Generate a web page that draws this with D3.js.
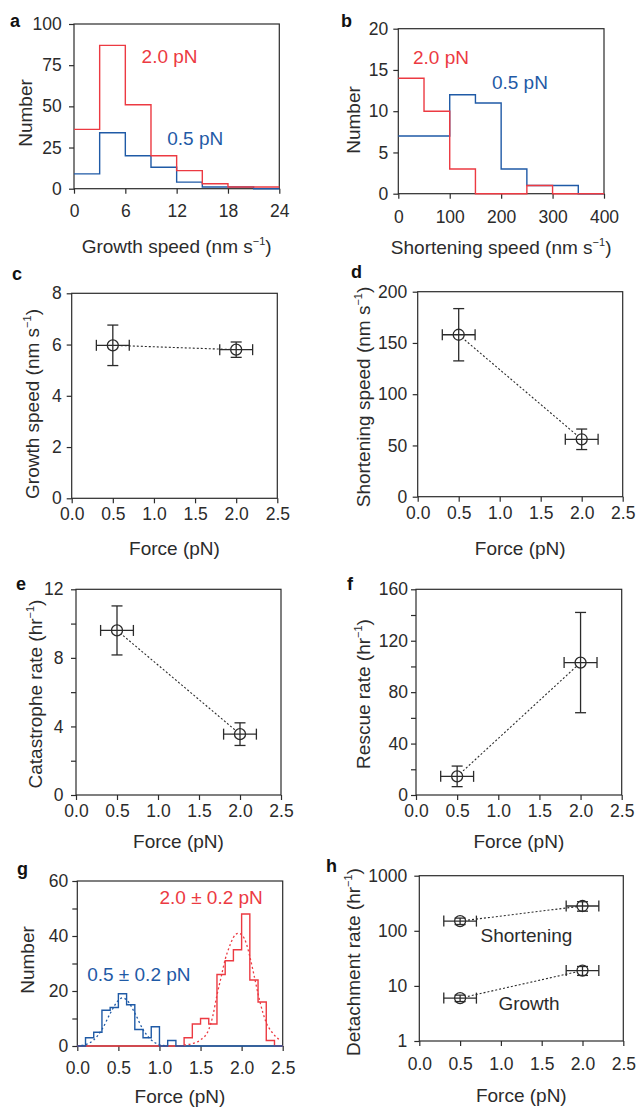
<!DOCTYPE html>
<html>
<head>
<meta charset="utf-8">
<script src="https://cdn.jsdelivr.net/npm/d3@7/dist/d3.min.js"></script>
<style>
  body { margin: 0; background: #fff; }
  svg text { font-family: "Liberation Sans", Arial, Helvetica, sans-serif; }
</style>
</head>
<body>
<svg id="fig" width="640" height="1107"></svg>
<script>
// a: growth speed histogram
var growthBins = [0, 3, 6, 9, 12, 15, 18, 21, 24];
var growthHigh = [36, 87, 51, 20, 11, 3, 1, 1];
var growthLow  = [9, 34, 20, 13, 4, 1, 1, 0];

// b: shortening speed histogram
var shortBins = [0, 50, 100, 150, 200, 250, 300, 350, 400];
var shortHigh = [14, 10, 3, 0, 0, 1, 0, 0];
var shortLow  = [7, 7, 12, 11, 3, 1, 1, 0];

// c-f: values at the two forces
var forces = [0.5, 2.0];
var forceErr = [0.2, 0.2];
var growthSpeed = [5.97, 5.8],  growthSpeedErr = [0.79, 0.3];
var shortSpeed  = [158, 56],    shortSpeedErr  = [25.5, 10];
var catRate     = [9.6, 3.55],  catRateErr     = [1.43, 0.66];
var rescueRate  = [14.5, 103],  rescueRateErr  = [8, 39];

// g: force histogram (0.1 pN bins) and fits
var forceBins = [0, 0.1, 0.2, 0.3, 0.4, 0.5, 0.6, 0.7, 0.8, 0.9, 1.0, 1.1, 1.2, 1.3,
                 1.4, 1.5, 1.6, 1.7, 1.8, 1.9, 2.0, 2.1, 2.2, 2.3, 2.4, 2.5];
var forceHigh = [0, 0, 0, 0, 0, 0, 0, 0, 0, 0, 0, 0, 0, 3, 8, 10, 8, 26, 31, 35, 48, 24, 16, 2, 0];
var forceLow  = [0, 3, 5, 13, 14, 19, 15, 6, 3, 7, 0, 2, 0, 0, 0, 0, 0, 0, 0, 0, 0, 0, 0, 0, 0];
var fitLow = [[0.05, 0.2], [0.1, 0.5], [0.2, 2.2], [0.3, 6], [0.4, 11.8], [0.5, 16.6],
              [0.55, 17.5], [0.6, 16.8], [0.7, 12], [0.8, 6], [0.9, 2.2], [1.0, 0.5], [1.1, 0.1]];
var fitHigh = [[1.3, 0.3], [1.4, 0.9], [1.5, 2.2], [1.6, 6], [1.65, 11], [1.7, 18.5],
               [1.75, 25], [1.8, 31.5], [1.85, 36], [1.9, 39.5], [1.96, 41], [2.0, 40.5],
               [2.06, 37], [2.1, 32.5], [2.16, 24.5], [2.2, 19], [2.26, 12], [2.3, 8.5],
               [2.37, 5], [2.47, 2]];

// h: detachment rates
var detachShort = [150, 282], detachShortErr = [20, 55];
var detachGrow  = [6, 19],    detachGrowErr  = [0.8, 3.5];

var RED = "#ec3a42", BLUE = "#1f5aa6", INK = "#2b2b2b";
var TICK = 17.5, TXT = 19;
var svg = d3.select("#fig");

function title(sel, parts) {
  sel.append("tspan").text(parts[0]);
  if (parts.length > 1) {
    sel.append("tspan").attr("font-size", 11).attr("dy", -8).text(parts[1]);
    sel.append("tspan").attr("font-size", TXT).attr("dy", 8).text(parts[2]);
  }
}

function panel(p) {
  var g = svg.append("g");
  var x = d3.scaleLinear().domain(p.xd).range([p.l, p.r]);
  var y = (p.log ? d3.scaleLog() : d3.scaleLinear()).domain(p.yd).range([p.b, p.t]);

  g.append("g").attr("transform", "translate(0," + p.b + ")")
    .call(d3.axisBottom(x).tickValues(p.xt).tickSize(5).tickPadding(p.xpad).tickFormat(p.xf || d3.format("d")));
  g.append("g").attr("transform", "translate(" + p.l + ",0)")
    .call(d3.axisLeft(y).tickValues(p.yt).tickSize(5).tickPadding(p.ypad).tickFormat(p.yf || d3.format("d")));
  if (p.ym) {
    g.append("g").attr("transform", "translate(" + p.l + ",0)")
      .call(d3.axisLeft(y).tickValues(p.ym).tickSize(5).tickFormat(""));
  }
  g.selectAll(".domain").remove();
  g.selectAll(".tick line").attr("stroke", INK).attr("stroke-width", 1.2);
  g.selectAll(".tick text").attr("font-size", TICK).style("fill", INK);

  g.append("rect").attr("x", p.l).attr("y", p.t)
    .attr("width", p.r - p.l).attr("height", p.b - p.t)
    .attr("fill", "none").attr("stroke", INK).attr("stroke-width", 1.2);

  g.append("text").attr("x", p.lx[0]).attr("y", p.lx[1])
    .attr("font-size", 18).attr("font-weight", "bold").style("fill", "#111").text(p.id);

  g.append("text").attr("x", (p.l + p.r) / 2).attr("y", p.xty)
    .attr("text-anchor", "middle").attr("font-size", TXT).style("fill", INK).call(title, p.xtitle);

  g.append("text").attr("transform", "translate(" + p.ytp[0] + "," + p.ytp[1] + ") rotate(-90)")
    .attr("text-anchor", "middle").attr("dy", "0.35em").attr("font-size", TXT)
    .style("fill", INK).call(title, p.ytitle);

  return { g: g.append("g"), x: x, y: y };
}

function hist(P, bins, counts, color) {
  var pts = counts.map(function(c, i) { return [bins[i], c]; });
  pts.push([bins[bins.length - 1], counts[counts.length - 1]]);
  P.g.append("path").datum(pts)
    .attr("fill", "none").attr("stroke", color).attr("stroke-width", 1.4)
    .attr("d", d3.line().curve(d3.curveStepAfter)
      .x(function(d) { return P.x(d[0]); }).y(function(d) { return P.y(d[1]); }));
}

function points(P, ys, yerr) {
  var pts = forces.map(function(f, i) { return [f, ys[i], forceErr[i], yerr[i]]; });
  P.g.append("path").datum(pts)
    .attr("fill", "none").attr("stroke", INK).attr("stroke-width", 1.1).attr("stroke-dasharray", "2,2")
    .attr("d", d3.line().x(function(d) { return P.x(d[0]); }).y(function(d) { return P.y(d[1]); }));
  var cap = 5.5;
  pts.forEach(function(d) {
    var cx = P.x(d[0]), cy = P.y(d[1]);
    P.g.append("circle").attr("cx", cx).attr("cy", cy).attr("r", 5.5)
      .attr("fill", "#fff").attr("stroke", INK).attr("stroke-width", 1.3);
    var x0 = P.x(d[0] - d[2]), x1 = P.x(d[0] + d[2]);
    var y0 = P.y(d[1] - d[3]), y1 = P.y(d[1] + d[3]);
    var segs = [[x0, cy, x1, cy], [x0, cy - cap, x0, cy + cap], [x1, cy - cap, x1, cy + cap],
                [cx, y0, cx, y1], [cx - cap, y0, cx + cap, y0], [cx - cap, y1, cx + cap, y1]];
    segs.forEach(function(s) {
      P.g.append("line").attr("x1", s[0]).attr("y1", s[1]).attr("x2", s[2]).attr("y2", s[3])
        .attr("stroke", INK).attr("stroke-width", 1.3);
    });
  });
}

function label(P, x, y, txt, color) {
  P.g.append("text").attr("x", P.x(x)).attr("y", P.y(y))
    .attr("font-size", TXT).style("fill", color).text(txt);
}

var forceTicks = [0, 0.5, 1.0, 1.5, 2.0, 2.5];
var f1 = d3.format(".1f");
var forceTitle = ["Force (pN)"];

// a
var A = panel({ id: "a", l: 74, t: 24, r: 279.3, b: 188.7, xd: [0, 24], yd: [0, 100],
  xt: [0, 6, 12, 18, 24], yt: [0, 25, 50, 75, 100], xpad: 11, ypad: 7.3,
  lx: [10, 27], xty: 253, ytp: [25, 113],
  xtitle: ["Growth speed (nm s", "−1", ")"], ytitle: ["Number"] });
hist(A, growthBins, growthLow, BLUE);
hist(A, growthBins, growthHigh, RED);
label(A, 7.9, 76.3, "2.0 pN", RED);
label(A, 10.9, 26.5, "0.5 pN", BLUE);

// b
var B = panel({ id: "b", l: 398.3, t: 28.7, r: 604, b: 193.7, xd: [0, 400], yd: [0, 20],
  xt: [0, 100, 200, 300, 400], yt: [0, 5, 10, 15, 20], xpad: 12, ypad: 5,
  lx: [341, 27], xty: 254, ytp: [353, 120],
  xtitle: ["Shortening speed (nm s", "−1", ")"], ytitle: ["Number"] });
hist(B, shortBins, shortLow, BLUE);
hist(B, shortBins, shortHigh, RED);
label(B, 28.6, 15.7, "2.0 pN", RED);
label(B, 182, 12.7, "0.5 pN", BLUE);

// c
var C = panel({ id: "c", l: 71.7, t: 293.3, r: 277.3, b: 498.3, xd: [0, 2.5], yd: [0, 8],
  xt: forceTicks, xf: f1, yt: [0, 2, 4, 6, 8], xpad: 4.6, ypad: 5,
  lx: [12, 280], xty: 555, ytp: [32, 404],
  xtitle: forceTitle, ytitle: ["Growth speed (nm s", "−1", ")"] });
points(C, growthSpeed, growthSpeedErr);

// d
var D = panel({ id: "d", l: 417.7, t: 291.7, r: 622.7, b: 496.7, xd: [0, 2.5], yd: [0, 200],
  xt: forceTicks, xf: f1, yt: [0, 50, 100, 150, 200], xpad: 4.6, ypad: 5.4,
  lx: [351, 278], xty: 555, ytp: [363, 397],
  xtitle: forceTitle, ytitle: ["Shortening speed (nm s", "−1", ")"] });
points(D, shortSpeed, shortSpeedErr);

// e
var E = panel({ id: "e", l: 76, t: 589.3, r: 281, b: 795, xd: [0, 2.5], yd: [0, 12],
  xt: forceTicks, xf: f1, yt: [0, 4, 8, 12], ym: [2, 6, 10], xpad: 4.6, ypad: 7.5,
  lx: [16, 590], xty: 848, ytp: [35, 694],
  xtitle: forceTitle, ytitle: ["Catastrophe rate (hr", "−1", ")"] });
points(E, catRate, catRateErr);

// f
var F = panel({ id: "f", l: 416, t: 589.3, r: 621.7, b: 795, xd: [0, 2.5], yd: [0, 160],
  xt: forceTicks, xf: f1, yt: [0, 40, 80, 120, 160], ym: [20, 60, 100, 140], xpad: 4.6, ypad: 3,
  lx: [347, 590], xty: 848, ytp: [363, 694],
  xtitle: forceTitle, ytitle: ["Rescue rate (hr", "−1", ")"] });
points(F, rescueRate, rescueRateErr);

// g
var G = panel({ id: "g", l: 77.3, t: 881, r: 282.7, b: 1046, xd: [0, 2.5], yd: [0, 60],
  xt: forceTicks, xf: f1, yt: [0, 20, 40, 60], ym: [10, 30, 50], xpad: 10.2, ypad: 4,
  lx: [17, 875], xty: 1103, ytp: [27, 960],
  xtitle: forceTitle, ytitle: ["Number"] });
hist(G, forceBins, forceHigh, RED);
hist(G, forceBins, forceLow, BLUE);
var fitLine = d3.line().curve(d3.curveMonotoneX)
  .x(function(d) { return G.x(d[0]); }).y(function(d) { return G.y(d[1]); });
G.g.append("path").datum(fitLow).attr("fill", "none").attr("stroke", BLUE)
  .attr("stroke-width", 1.3).attr("stroke-dasharray", "2,2.5").attr("d", fitLine);
G.g.append("path").datum(fitHigh).attr("fill", "none").attr("stroke", RED)
  .attr("stroke-width", 1.3).attr("stroke-dasharray", "2,2.5").attr("d", fitLine);
label(G, 1.0, 51.6, "2.0 ± 0.2 pN", RED);
label(G, 0.12, 23.7, "0.5 ± 0.2 pN", BLUE);

// h
var Hp = panel({ id: "h", l: 419.3, t: 875.7, r: 623.3, b: 1041, xd: [0, 2.5], yd: [1, 1000], log: true,
  xt: forceTicks, xf: f1, yt: [1, 10, 100, 1000], xpad: 11.2, ypad: 7,
  lx: [326, 872], xty: 1102, ytp: [353, 962],
  xtitle: forceTitle, ytitle: ["Detachment rate (hr", "−1", ")"] });
points(Hp, detachShort, detachShortErr);
points(Hp, detachGrow, detachGrowErr);
label(Hp, 0.75, 63, "Shortening", INK);
label(Hp, 0.97, 3.65, "Growth", INK);
</script>
</body>
</html>
